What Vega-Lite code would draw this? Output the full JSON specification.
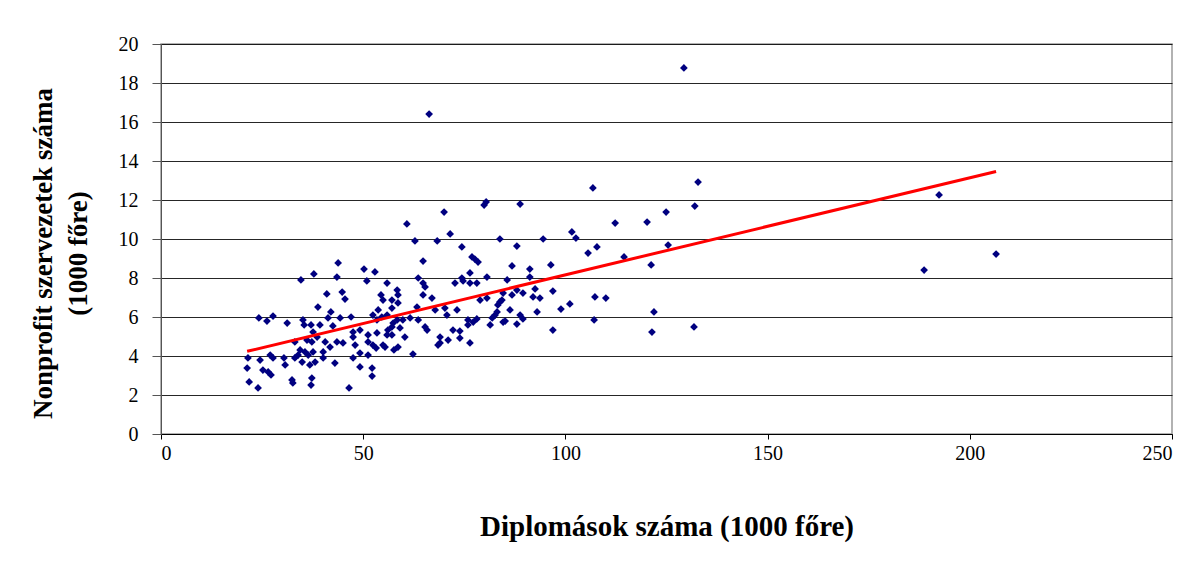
{
  "$schema": "https://vega.github.io/schema/vega-lite/v6.json",
  "width": 1011,
  "height": 390,
  "autosize": {"type": "none"},
  "padding": {"left": 161, "top": 44, "right": 28, "bottom": 129},
  "background": "white",
  "config": {
    "view": {"stroke": "#999999", "strokeWidth": 1.5},
    "font": "Liberation Serif"
  },
  "data": {"values": [
    {"x":21.5,"y":3.90},{"x":21.3,"y":3.38},{"x":21.8,"y":2.67},{"x":24.0,"y":2.36},{"x":24.2,"y":5.95},
    {"x":26.2,"y":5.79},{"x":27.7,"y":6.05},{"x":24.5,"y":3.79},{"x":25.2,"y":3.28},{"x":27.0,"y":4.05},
    {"x":27.7,"y":3.90},{"x":26.5,"y":3.18},{"x":27.2,"y":3.03},{"x":31.2,"y":5.69},{"x":30.4,"y":3.90},
    {"x":30.7,"y":3.54},{"x":32.4,"y":2.77},{"x":32.6,"y":2.62},{"x":33.1,"y":4.72},{"x":33.9,"y":4.05},
    {"x":34.4,"y":4.31},{"x":35.6,"y":4.21},{"x":36.4,"y":4.05},{"x":33.1,"y":3.90},{"x":34.9,"y":3.69},
    {"x":34.6,"y":7.90},{"x":35.1,"y":5.85},{"x":35.4,"y":5.59},{"x":37.8,"y":8.21},{"x":37.1,"y":5.59},
    {"x":36.8,"y":3.54},{"x":37.3,"y":2.87},{"x":37.1,"y":2.51},{"x":37.6,"y":5.23},{"x":37.3,"y":4.72},
    {"x":36.1,"y":4.82},{"x":43.8,"y":8.77},{"x":43.5,"y":8.05},{"x":50.2,"y":8.46},{"x":52.9,"y":8.31},
    {"x":50.9,"y":7.85},{"x":41.0,"y":7.18},{"x":44.8,"y":7.28},{"x":45.5,"y":6.92},{"x":38.8,"y":6.51},
    {"x":42.0,"y":6.26},{"x":41.3,"y":5.95},{"x":44.3,"y":5.95},{"x":47.0,"y":6.00},{"x":54.4,"y":7.13},
    {"x":54.9,"y":6.87},{"x":53.7,"y":6.36},{"x":52.4,"y":6.10},{"x":54.6,"y":6.00},{"x":39.3,"y":5.59},
    {"x":42.5,"y":5.54},{"x":47.5,"y":5.23},{"x":49.2,"y":5.33},{"x":51.2,"y":5.08},{"x":53.4,"y":5.18},
    {"x":55.9,"y":5.08},{"x":38.6,"y":4.97},{"x":40.6,"y":4.72},{"x":43.5,"y":4.72},{"x":45.0,"y":4.67},
    {"x":47.5,"y":4.97},{"x":51.2,"y":4.72},{"x":52.4,"y":4.56},{"x":54.9,"y":4.56},{"x":37.6,"y":4.21},
    {"x":40.1,"y":4.21},{"x":41.8,"y":4.46},{"x":48.0,"y":4.56},{"x":49.2,"y":4.15},{"x":51.2,"y":4.05},
    {"x":47.5,"y":3.90},{"x":38.1,"y":3.69},{"x":40.1,"y":3.90},{"x":43.0,"y":3.64},{"x":49.2,"y":3.44},
    {"x":52.2,"y":3.38},{"x":52.2,"y":2.97},{"x":46.5,"y":2.36},{"x":55.9,"y":7.74},{"x":53.4,"y":5.85},
    {"x":55.4,"y":4.46},{"x":53.2,"y":4.41},{"x":62.8,"y":9.90},{"x":68.3,"y":9.90},{"x":71.5,"y":10.26},
    {"x":74.4,"y":9.59},{"x":64.8,"y":8.87},{"x":63.6,"y":8.00},{"x":64.8,"y":7.74},{"x":65.3,"y":7.54},
    {"x":64.8,"y":7.13},{"x":67.0,"y":6.97},{"x":72.7,"y":7.74},{"x":74.4,"y":8.00},{"x":58.4,"y":7.38},
    {"x":58.6,"y":7.13},{"x":57.1,"y":6.87},{"x":58.6,"y":6.72},{"x":57.1,"y":6.46},{"x":63.3,"y":6.51},
    {"x":67.8,"y":6.36},{"x":70.2,"y":6.46},{"x":70.7,"y":6.10},{"x":73.2,"y":6.36},{"x":55.9,"y":6.10},
    {"x":58.4,"y":5.85},{"x":59.8,"y":5.85},{"x":61.6,"y":5.95},{"x":63.6,"y":5.85},{"x":57.1,"y":5.49},
    {"x":59.1,"y":5.44},{"x":65.3,"y":5.49},{"x":65.8,"y":5.33},{"x":56.1,"y":5.33},{"x":60.3,"y":4.97},
    {"x":69.0,"y":4.97},{"x":71.0,"y":4.82},{"x":73.9,"y":4.92},{"x":72.2,"y":5.33},{"x":68.5,"y":4.56},
    {"x":58.6,"y":4.46},{"x":57.6,"y":4.31},{"x":62.3,"y":4.10},{"x":60.8,"y":10.77},{"x":70.0,"y":11.38},
    {"x":80.4,"y":11.90},{"x":79.9,"y":11.74},{"x":76.9,"y":9.08},{"x":77.6,"y":8.97},{"x":78.4,"y":8.82},
    {"x":74.7,"y":7.85},{"x":57.4,"y":5.69},{"x":73.9,"y":5.28},{"x":57.1,"y":5.08},{"x":69.0,"y":4.67},
    {"x":83.8,"y":10.00},{"x":88.0,"y":9.64},{"x":86.8,"y":8.62},{"x":91.2,"y":8.46},{"x":76.4,"y":8.26},
    {"x":76.4,"y":7.74},{"x":78.1,"y":7.74},{"x":80.6,"y":8.05},{"x":85.6,"y":7.90},{"x":91.2,"y":8.05},
    {"x":88.0,"y":7.38},{"x":89.5,"y":7.23},{"x":86.8,"y":7.13},{"x":92.0,"y":7.03},{"x":78.9,"y":6.87},
    {"x":80.6,"y":6.97},{"x":84.3,"y":6.87},{"x":83.3,"y":6.62},{"x":83.1,"y":6.26},{"x":86.3,"y":6.36},
    {"x":88.8,"y":6.10},{"x":89.5,"y":5.90},{"x":82.6,"y":6.10},{"x":81.9,"y":5.95},{"x":75.9,"y":5.85},
    {"x":77.2,"y":5.74},{"x":78.1,"y":5.90},{"x":75.9,"y":5.59},{"x":81.4,"y":5.59},{"x":85.1,"y":5.79},
    {"x":88.0,"y":5.64},{"x":76.4,"y":4.67},{"x":88.8,"y":11.79},{"x":106.8,"y":12.62},{"x":132.8,"y":12.92},
    {"x":132.0,"y":11.69},{"x":124.9,"y":11.38},{"x":120.2,"y":10.87},{"x":112.3,"y":10.82},{"x":101.6,"y":10.36},
    {"x":102.6,"y":10.05},{"x":94.5,"y":10.00},{"x":107.8,"y":9.59},{"x":105.6,"y":9.28},{"x":125.4,"y":9.69},
    {"x":114.5,"y":9.08},{"x":96.4,"y":8.67},{"x":121.2,"y":8.67},{"x":84.6,"y":7.23},{"x":92.5,"y":7.44},
    {"x":93.7,"y":6.97},{"x":96.9,"y":7.33},{"x":107.3,"y":7.03},{"x":110.0,"y":6.97},{"x":83.8,"y":6.77},
    {"x":93.0,"y":6.26},{"x":98.9,"y":6.41},{"x":101.1,"y":6.67},{"x":84.6,"y":5.74},{"x":96.9,"y":5.33},
    {"x":107.1,"y":5.85},{"x":121.9,"y":6.26},{"x":121.4,"y":5.23},{"x":131.8,"y":5.49},{"x":129.3,"y":18.77},
    {"x":66.3,"y":16.41},{"x":192.4,"y":12.26},{"x":188.7,"y":8.41},{"x":206.5,"y":9.23}
  ]},
  "encoding": {
    "x": {
      "field": "x", "type": "quantitative",
      "scale": {"domain": [0, 250], "nice": false, "zero": true},
      "axis": {
        "values": [0, 50, 100, 150, 200, 250],
        "tickCount": 30,
        "format": "d",
        "grid": false,
        "domainColor": "#000000",
        "tickColor": "#000000",
        "tickSize": 5,
        "labelPadding": 4,
        "labelFontSize": 20,
        "labelFont": "Liberation Serif",
        "labelColor": "#000000",
        "labelOverlap": false,
        "title": "Diplomások száma (1000 főre)",
        "titleFont": "Liberation Serif",
        "titleFontSize": 29,
        "titleFontWeight": "bold",
        "titleColor": "#000000",
        "titlePadding": 49
      }
    },
    "y": {
      "field": "y", "type": "quantitative",
      "scale": {"domain": [0, 20], "nice": false},
      "axis": {
        "values": [0, 2, 4, 6, 8, 10, 12, 14, 16, 18, 20],
        "tickCount": 30,
        "format": "d",
        "grid": true,
        "gridColor": "#000000",
        "gridWidth": 1,
        "gridOpacity": 0.85,
        "domainColor": "#555555",
        "tickColor": "#555555",
        "tickSize": 9,
        "labelPadding": 14,
        "labelFontSize": 20,
        "labelFont": "Liberation Serif",
        "labelColor": "#000000",
        "labelOverlap": false,
        "labelBound": false,
        "labelFlush": false,
        "title": ["Nonprofit szervezetek száma", "(1000 főre)"],
        "titleFont": "Liberation Serif",
        "titleFontSize": 27,
        "titleFontWeight": "bold",
        "titleColor": "#000000",
        "titlePadding": 26,
        "titleLineHeight": 35,
        "titleY": 209
      }
    }
  },
  "layer": [
    {
      "mark": {"type": "point", "shape": "diamond", "filled": true, "color": "#000080", "size": 60, "opacity": 1}
    },
    {
      "transform": [{"regression": "y", "on": "x"}],
      "mark": {"type": "line", "color": "#ff0000", "strokeWidth": 3}
    }
  ]
}
